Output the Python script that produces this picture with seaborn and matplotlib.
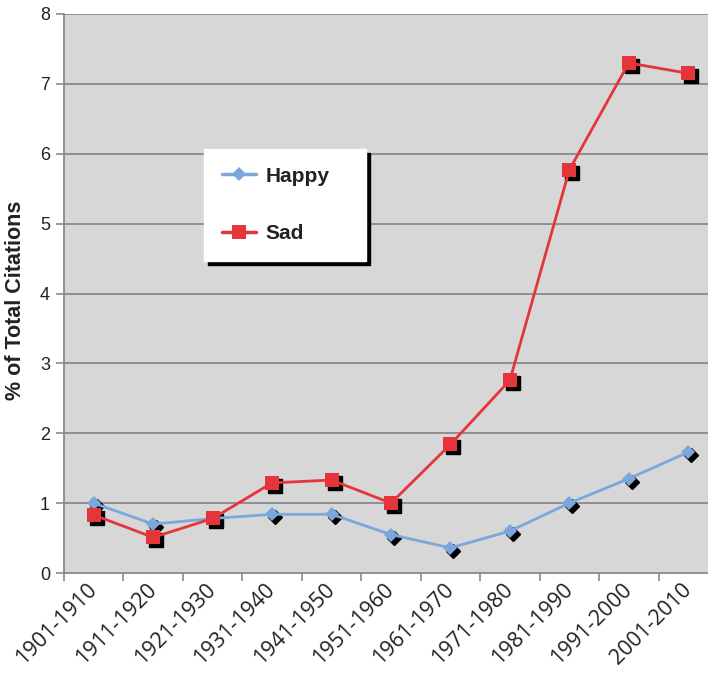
import matplotlib
matplotlib.use("Agg")
import matplotlib.pyplot as plt
from matplotlib.transforms import offset_copy
import seaborn as sns
import pandas as pd

# Decades and share of citations per decade
decades = ["1901-1910", "1911-1920", "1921-1930", "1931-1940", "1941-1950",
           "1951-1960", "1961-1970", "1971-1980", "1981-1990", "1991-2000",
           "2001-2010"]
happy = [1.00, 0.70, 0.78, 0.84, 0.84, 0.55, 0.36, 0.60, 1.00, 1.35, 1.73]
sad = [0.83, 0.51, 0.78, 1.29, 1.33, 1.00, 1.84, 2.76, 5.77, 7.30, 7.15]
y_ticks = [0, 1, 2, 3, 4, 5, 6, 7, 8]

df = pd.DataFrame({
    "decade": decades * 2,
    "value": happy + sad,
    "series": ["Happy"] * len(decades) + ["Sad"] * len(decades),
})

sns.set_theme(style="white")
plt.rcParams["font.family"] = ["Liberation Sans", "DejaVu Sans"]

BLUE = "#7ba7dc"
RED = "#e5343a"
GRID = "#8a8a8a"
MS_HAPPY, MS_SAD = 7.5, 9.5

fig = plt.figure(figsize=(7.08, 6.74), dpi=100)
ax = fig.add_axes([64 / 708, 101 / 674, 654 / 708, 559 / 674])
ax.set_facecolor("#d7d7d7")

pos = {d: i for i, d in enumerate(decades)}
df["x"] = df["decade"].map(pos)

# black drop shadows under the markers
shadow_tr = offset_copy(ax.transData, fig=fig, x=3, y=-3, units="dots")
for name, mk, ms in [("Happy", "D", MS_HAPPY), ("Sad", "s", MS_SAD)]:
    sub = df[df["series"] == name]
    ax.plot(sub["x"], sub["value"], linestyle="none", marker=mk, ms=ms,
            color="black", transform=shadow_tr, zorder=3)

sns.lineplot(data=df, x="x", y="value", hue="series", style="series",
             palette={"Happy": BLUE, "Sad": RED},
             markers={"Happy": "D", "Sad": "s"}, dashes=False,
             sort=False, linewidth=2.0, markeredgewidth=0,
             ax=ax, zorder=4, legend=False)
for line, ms in zip(ax.lines[-2:], [MS_HAPPY, MS_SAD]):
    line.set_markersize(ms)

ax.set_xlim(-0.5, len(decades) - 0.5)
ax.set_ylim(0, 8)
ax.set_yticks(y_ticks)
ax.set_yticklabels([str(v) for v in y_ticks], fontsize=13, color="#222222")
ax.tick_params(axis="y", length=6, width=1.2, color=GRID, pad=4, left=True)

# boundary ticks between decades, labels centred on each decade
ax.set_xticks([i - 0.5 for i in range(len(decades) + 1)])
ax.set_xticklabels([])
ax.set_xticks(range(len(decades)), minor=True)
ax.set_xticklabels(decades, minor=True, rotation=45, ha="right", va="center",
                   rotation_mode="anchor", fontsize=15.5,
                   family=["Open Sans", "DejaVu Sans"], color="#222222")
ax.tick_params(axis="x", which="major", length=6, width=1.2, color=GRID,
               bottom=True)
ax.tick_params(axis="x", which="minor", length=0, pad=10)

for y in y_ticks[1:]:
    ax.axhline(y, color=GRID, linewidth=1.3, zorder=1)

for side in ["top", "right"]:
    ax.spines[side].set_visible(False)
for side in ["left", "bottom"]:
    ax.spines[side].set_color(GRID)
    ax.spines[side].set_linewidth(1.3)

ax.set_xlabel("")
ax.set_ylabel("% of Total Citations", fontsize=15.5, fontweight="bold",
              color="#222222")
ax.yaxis.set_label_coords(-0.058, 0.488)

handles = [
    plt.Line2D([], [], color=BLUE, marker="D", ms=MS_HAPPY, lw=2.5, mew=0),
    plt.Line2D([], [], color=RED, marker="s", ms=MS_SAD, lw=2.5, mew=0),
]
leg = ax.legend(handles, ["Happy", "Sad"], loc="upper left",
                bbox_to_anchor=(204 / 708, 1 - 262 / 674, 162 / 708, 113 / 674),
                bbox_transform=fig.transFigure, mode="expand",
                prop={"weight": "bold", "size": 15},
                frameon=True, fancybox=False, framealpha=1,
                facecolor="white", edgecolor="white",
                handlelength=1.65, handletextpad=0.45, labelspacing=1.85,
                borderpad=0.85, borderaxespad=0,
                shadow={"ox": 3, "oy": -3, "facecolor": "black",
                        "edgecolor": "black", "alpha": 1})
for t in leg.get_texts():
    t.set_color("#222222")

fig.savefig("out.png", dpi=100)
